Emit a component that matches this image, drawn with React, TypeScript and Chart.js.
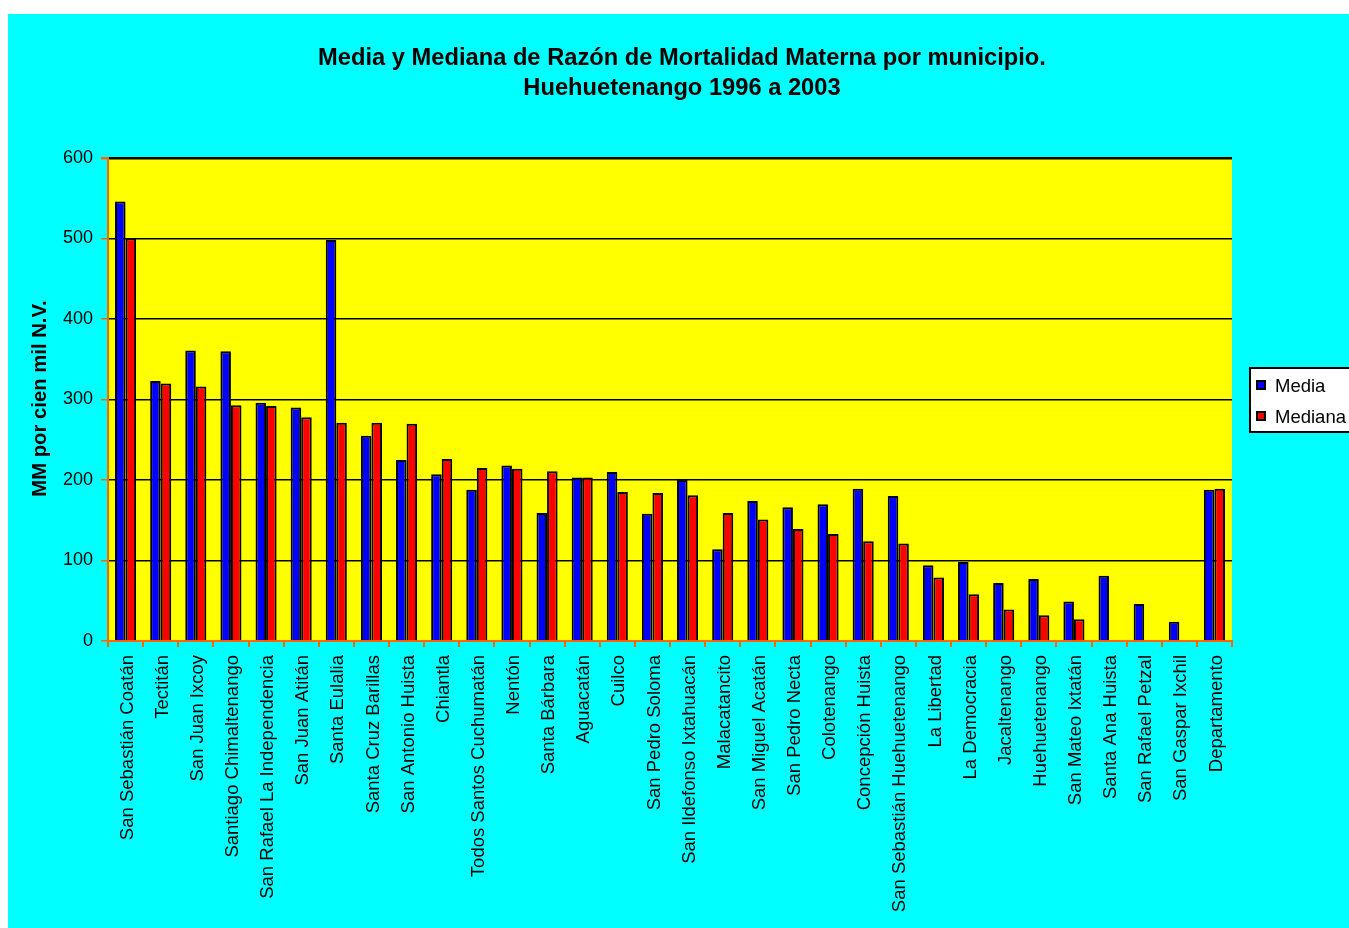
import React, { useEffect, useRef } from "react";
import { Chart, registerables } from "chart.js";

Chart.register(...registerables);

const categories = [
  "San Sebastián Coatán",
  "Tectitán",
  "San Juan Ixcoy",
  "Santiago Chimaltenango",
  "San Rafael La Independencia",
  "San Juan Atitán",
  "Santa Eulalia",
  "Santa Cruz Barillas",
  "San Antonio Huista",
  "Chiantla",
  "Todos Santos Cuchumatán",
  "Nentón",
  "Santa Bárbara",
  "Aguacatán",
  "Cuilco",
  "San Pedro Soloma",
  "San Ildefonso Ixtahuacán",
  "Malacatancito",
  "San Miguel Acatán",
  "San Pedro Necta",
  "Colotenango",
  "Concepción Huista",
  "San Sebastián Huehuetenango",
  "La Libertad",
  "La Democracia",
  "Jacaltenango",
  "Huehuetenango",
  "San Mateo Ixtatán",
  "Santa Ana Huista",
  "San Rafael Petzal",
  "San Gaspar Ixchil",
  "Departamento",
];

const mediaValues = [
  546, 323, 361, 360, 296, 290, 498, 255, 225, 207, 188, 218, 159, 203, 210, 158,
  200, 114, 174, 166, 170, 189, 180, 94, 98, 72, 77, 49, 81, 46, 24, 188,
];

const medianaValues: (number | null)[] = [
  500, 320, 316, 293, 292, 278, 271, 271, 270, 226, 215, 214, 211, 203, 185, 184,
  181, 159, 151, 139, 133, 124, 121, 79, 58, 39, 32, 27, null, null, null, 189,
];

const seriesLabels = ["Media", "Mediana"];
const titleLines = [
  "Media y Mediana de Razón de Mortalidad Materna por municipio.",
  "Huehuetenango 1996 a 2003",
];
const yAxisTitle = "MM por cien mil N.V.";
const yTicks = { min: 0, max: 600, step: 100 };

const FONT = '"Liberation Sans", Arial, sans-serif';
const ORANGE = "#FF6600";

const W = 1341;
const H = 914;

export default function App() {
  const ref = useRef<HTMLCanvasElement | null>(null);

  useEffect(() => {
    if (!ref.current) return;

    const decorPlugin = {
      id: "decor",
      beforeDraw(chart: any) {
        const { ctx, chartArea } = chart;
        ctx.save();
        ctx.fillStyle = "#FFFF00";
        ctx.fillRect(
          chartArea.left,
          chartArea.top,
          chartArea.right - chartArea.left,
          chartArea.bottom - chartArea.top
        );
        ctx.restore();
      },
      afterDraw(chart: any) {
        const { ctx } = chart;
        ctx.save();
        // Title
        ctx.fillStyle = "#000";
        ctx.font = `bold 23.7px ${FONT}`;
        ctx.textAlign = "center";
        ctx.textBaseline = "alphabetic";
        ctx.fillText(titleLines[0], 674, 50.5);
        ctx.fillText(titleLines[1], 674, 81);

        // Y axis title
        ctx.save();
        ctx.translate(32, 384.5);
        ctx.rotate(-Math.PI / 2);
        ctx.font = `bold 20.3px ${FONT}`;
        ctx.textAlign = "center";
        ctx.textBaseline = "middle";
        ctx.fillText(yAxisTitle, 0, 0);
        ctx.restore();

        // Legend
        const lx = 1242;
        const ly = 354;
        ctx.fillStyle = "#FFFFFF";
        ctx.fillRect(lx, ly, W - lx + 10, 64);
        ctx.strokeStyle = "#000";
        ctx.lineWidth = 2;
        ctx.strokeRect(lx, ly, W - lx + 10, 64);
        ctx.font = `18.5px ${FONT}`;
        ctx.textAlign = "left";
        ctx.textBaseline = "alphabetic";
        chart.data.datasets.forEach((ds: any, i: number) => {
          const sy = 367 + i * 31;
          ctx.fillStyle = ds.backgroundColor;
          ctx.fillRect(1249, sy, 8, 8);
          ctx.strokeStyle = "#000";
          ctx.lineWidth = 2;
          ctx.strokeRect(1249, sy, 8, 8);
          ctx.fillStyle = "#000";
          ctx.fillText(ds.label, 1267, 378 + i * 31);
        });
        ctx.restore();
      },
    };

    const chart = new Chart(ref.current, {
      type: "bar",
      data: {
        labels: categories,
        datasets: [
          {
            label: seriesLabels[0],
            data: mediaValues,
            backgroundColor: "#0000FF",
            borderColor: "#000000",
            borderWidth: 2,
            categoryPercentage: 0.6,
            barPercentage: 1.0,
          },
          {
            label: seriesLabels[1],
            data: medianaValues,
            backgroundColor: "#FF0000",
            borderColor: "#000000",
            borderWidth: 2,
            categoryPercentage: 0.6,
            barPercentage: 1.0,
          },
        ],
      },
      options: {
        responsive: false,
        animation: false,
        layout: { padding: { top: 144, right: 117, left: 0, bottom: 0 } },
        plugins: {
          legend: { display: false },
          title: { display: false },
          tooltip: { enabled: false },
        },
        scales: {
          x: {
            grid: {
              display: true,
              drawOnChartArea: false,
              drawTicks: true,
              tickLength: 6,
              color: ORANGE,
              tickColor: ORANGE,
              lineWidth: 2,
              offset: true,
            },
            border: { display: true, color: ORANGE, width: 2 },
            ticks: {
              autoSkip: false,
              maxRotation: 90,
              minRotation: 90,
              padding: 8,
              labelOffset: 2,
              color: "#000",
              font: { family: FONT, size: 18.5 },
            },
            afterFit: (s: any) => {
              s.height = 287;
            },
          },
          y: {
            min: yTicks.min,
            max: yTicks.max,
            ticks: {
              stepSize: yTicks.step,
              padding: 8,
              color: "#000",
              font: { family: FONT, size: 18 },
            },
            grid: {
              color: (c: any) => (c.tick && c.tick.value === 0 ? ORANGE : "#000"),
              tickColor: ORANGE,
              tickLength: 7,
              lineWidth: (c: any) => (c.tick && c.tick.value === yTicks.max ? 2.5 : 1.5),
            },
            border: { display: true, color: ORANGE, width: 2 },
            afterFit: (s: any) => {
              s.width = 100;
            },
          },
        },
      },
      plugins: [decorPlugin],
    });

    return () => chart.destroy();
  }, []);

  return (
    <div
      style={{
        position: "absolute",
        left: 8,
        top: 14,
        width: W,
        height: H,
        background: "#00FFFF",
        overflow: "hidden",
      }}
    >
      <canvas ref={ref} width={W} height={H} style={{ display: "block" }} />
    </div>
  );
}
